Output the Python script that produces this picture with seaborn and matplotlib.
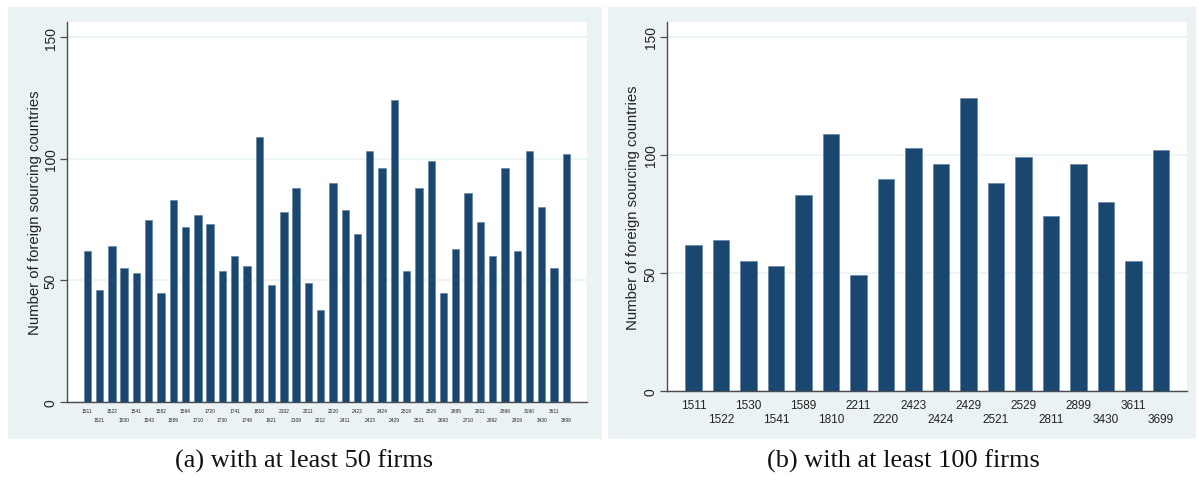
import matplotlib
matplotlib.use("Agg")
import matplotlib.pyplot as plt
import seaborn as sns
import pandas as pd
from matplotlib.patches import Rectangle

# ---------------- data ----------------
codes_a = ["1511", "1521", "1522", "1530", "1541", "1543", "1582", "1589", "1594", "1710",
           "1720", "1730", "1741", "1749", "1810", "1921", "2102", "2109", "2211", "2212",
           "2220", "2411", "2422", "2423", "2424", "2429", "2519", "2521", "2529", "2693",
           "2695", "2710", "2811", "2892", "2899", "2919", "3190", "3430", "3611", "3699"]
counts_a = [62, 46, 64, 55, 53, 75, 45, 83, 72, 77,
            73, 54, 60, 56, 109, 48, 78, 88, 49, 38,
            90, 79, 69, 103, 96, 124, 54, 88, 99, 45,
            63, 86, 74, 60, 96, 62, 103, 80, 55, 102]

codes_b = ["1511", "1522", "1530", "1541", "1589", "1810", "2211", "2220", "2423",
           "2424", "2429", "2521", "2529", "2811", "2899", "3430", "3611", "3699"]
counts_b = [62, 64, 55, 53, 83, 109, 49, 90, 103,
            96, 124, 88, 99, 74, 96, 80, 55, 102]

y_ticks = [0, 50, 100, 150]
y_label = "Number of foreign sourcing countries"
caption_a = "(a) with at least 50 firms"
caption_b = "(b) with at least 100 firms"

# ---------------- style ----------------
sns.set_theme(style="white")
plt.rcParams["font.family"] = ["Liberation Sans", "DejaVu Sans"]

W, H = 1199, 481
BG = "#eaf2f3"
BAR = "#1a476f"
GRID = "#eaf2f3"
AXC = "#4d4d4d"

fig = plt.figure(figsize=(W / 100, H / 100), dpi=100)
fig.patch.set_facecolor("white")


def px_rect(x0, y0, x1, y1):
    return [x0 / W, 1 - y1 / H, (x1 - x0) / W, (y1 - y0) / H]


for (x0, y0, x1, y1) in [(8, 8, 602, 440), (608, 8, 1196, 440)]:
    fig.patches.append(Rectangle((x0 / W, 1 - y1 / H), (x1 - x0) / W, (y1 - y0) / H,
                                 transform=fig.transFigure, facecolor=BG,
                                 edgecolor="none", zorder=-5))


def draw(ax, codes, counts, xlim, top, xfs, xls, xpad, label_x):
    df = pd.DataFrame({"code": codes, "count": counts})
    sns.barplot(data=df, x="code", y="count", order=codes, color=BAR,
                saturation=1, width=0.6, ax=ax, edgecolor="#5d7f9f",
                linewidth=0.4, zorder=3)
    ax.set_facecolor("white")
    ax.set_xlim(*xlim)
    ax.set_ylim(0, top)
    ax.set_yticks(y_ticks)
    ax.set_yticklabels([str(t) for t in y_ticks], rotation=90, va="center",
                       fontsize=9.9, color="#222222")
    ax.yaxis.grid(True, color=GRID, linewidth=1.2, zorder=0)
    ax.xaxis.grid(False)
    ax.set_axisbelow(True)
    ax.tick_params(axis="y", length=5, width=0.9, color=AXC, pad=1.8, left=True)
    ax.tick_params(axis="x", length=0, pad=xpad)
    ax.set_xticks(range(len(codes)))
    ax.set_xticklabels([c if i % 2 == 0 else "\n" + c for i, c in enumerate(codes)],
                       fontsize=xfs, color="#222222")
    for t in ax.get_xticklabels():
        t.set_linespacing(xls)
    for s in ["top", "right"]:
        ax.spines[s].set_visible(False)
    for s in ["left", "bottom"]:
        ax.spines[s].set_color(AXC)
        ax.spines[s].set_linewidth(1.0)
    ax.set_xlabel("")
    ax.set_ylabel(y_label, fontsize=10.7, color="#222222")
    ax.yaxis.set_label_coords(label_x, 0.5)
    ax.yaxis.label.set_va("center")


ax1 = fig.add_axes(px_rect(67, 23, 587, 403))
draw(ax1, codes_a, counts_a, (-1.65, 40.68), 156.2, 3.5, 2.0, 4, (35 - 67) / 520)

ax2 = fig.add_axes(px_rect(667, 23, 1187, 392))
draw(ax2, codes_b, counts_b, (-0.96, 17.95), 156.3, 8.5, 1.2, 6, (633 - 667) / 520)

cap_font = ["Liberation Serif", "DejaVu Serif"]
fig.text(304 / W, 1 - 468 / H, caption_a, ha="center", va="baseline",
         fontsize=18.9, family=cap_font, color="#111111")
fig.text(903 / W, 1 - 468 / H, caption_b, ha="center", va="baseline",
         fontsize=18.9, family=cap_font, color="#111111")

fig.savefig("out.png", dpi=100, facecolor="white")
